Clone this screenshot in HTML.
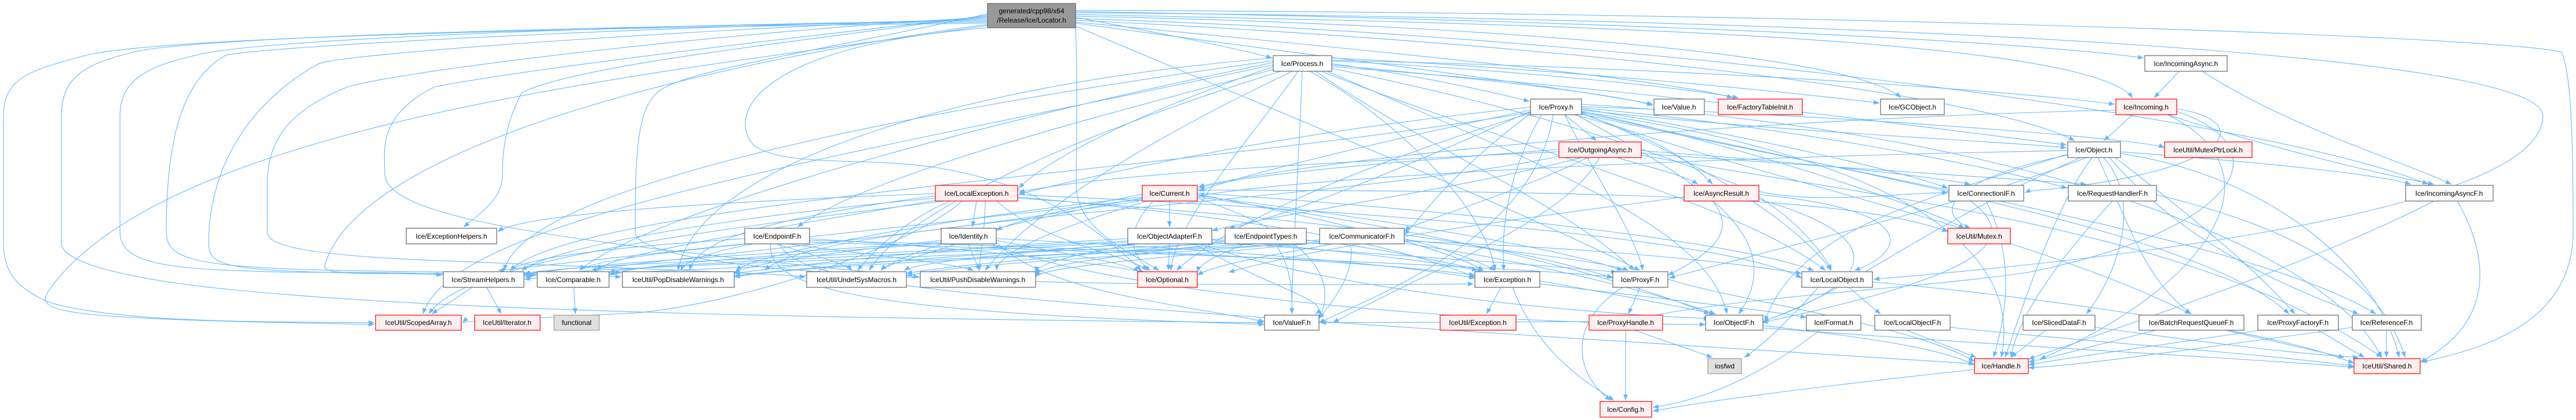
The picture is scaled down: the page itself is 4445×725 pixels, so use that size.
<!DOCTYPE html>
<html><head><meta charset="utf-8"><style>
html,body{margin:0;padding:0;background:#fff;}
svg{display:block;}
text{font-family:"Liberation Sans",Arial,sans-serif;font-size:12px;fill:#000;text-anchor:middle;}
.e{fill:none;stroke:#63b8ff;stroke-width:1.1;marker-end:url(#a);}
.n{fill:#fff;stroke:#666;stroke-width:1.2;}
.r{fill:#fff0f0;stroke:#ff0000;stroke-width:1.2;}
.g{fill:#e0e0e0;stroke:#999;stroke-width:1.2;}
.root{fill:#999;stroke:#666;stroke-width:1.2;}
</style></head><body>
<svg width="4445" height="725" viewBox="0 0 4445 725" xmlns="http://www.w3.org/2000/svg">
<defs><marker id="a" markerWidth="11" markerHeight="8" refX="10" refY="4" orient="auto" markerUnits="userSpaceOnUse"><path d="M0,0 L10,4 L0,8 z" fill="#63b8ff"/></marker></defs>
<g>
<!-- root edges -->
<path class="e" d="M1856,30 C1990,55 2120,80 2195,100"/>
<path class="e" d="M1856,20 C2500,30 3400,60 3699,100"/>
<path class="e" d="M1856,25 C2600,40 3600,60 3680,169"/>
<path class="e" d="M1856,28 C2500,40 3200,90 3280,169"/>
<path class="e" d="M1856,40 C2300,100 2700,150 2852,180"/>
<path class="e" d="M1856,38 C2400,90 2900,140 2990,169"/>
<path class="e" d="M1856,35 C2600,70 3400,150 3580,243"/>
<path class="e" d="M1856,22 C3000,30 4388,80 4388,200 C4388,380 3500,460 3233,482"/>
<path class="e" d="M1856,18 C3000,20 4300,60 4420,90 C4440,130 4440,300 4440,400 C4440,550 4300,600 4178,625"/>
<path class="e" d="M1856,32 C2800,60 3900,200 4190,318"/>
<path class="e" d="M1856,45 C2100,150 2600,350 2830,467"/>
<path class="e" d="M1856,48 C1860,150 1857,250 1857,320 C1857,400 1960,440 2000,467"/>
<path class="e" d="M1704,40 C1200,45 300,60 150,95 C60,120 6,130 6,200 L6,420 C6,480 40,500 80,520 C200,560 500,555 646,557"/>
<path class="e" d="M1704,38 C1200,42 350,60 230,90 C150,110 106,130 106,200 L106,420 C106,450 200,480 400,500 C800,540 1500,550 2180,557"/>
<path class="e" d="M1704,36 C1200,40 450,65 340,95 C250,115 207,140 207,200 L207,400 C207,460 300,465 500,470 C650,470 720,470 763,475"/>
<path class="e" d="M1704,34 C1300,40 500,75 390,95 C310,140 287,250 287,400 C287,460 360,465 800,470 L1072,478"/>
<path class="e" d="M1704,32 C1300,45 600,90 550,110 C440,170 360,280 360,420 C360,470 400,470 925,475"/>
<path class="e" d="M1704,30 C1300,50 700,120 600,150 C500,190 461,240 461,320 L461,400 C461,420 500,440 760,450 C1000,460 1300,470 1390,478"/>
<path class="e" d="M1704,28 C1400,60 900,120 750,150 C650,200 664,260 664,300 C664,380 1000,420 1586,478"/>
<path class="e" d="M1704,26 C1400,70 1000,110 900,160 C880,200 867,240 867,300 C867,340 840,360 800,392"/>
<path class="e" d="M1704,24 C1450,80 1200,120 1150,150 C1100,170 1096,250 1096,400 C1096,450 1400,500 2543,490"/>
<path class="e" d="M1704,48 C1300,80 1255,200 1300,250 C1350,290 1500,270 1620,290 C1800,320 1900,400 1970,467"/>
<path class="e" d="M1704,44 C1200,120 300,200 85,500 C60,540 80,550 646,560"/>
<path class="e" d="M1704,42 C1000,140 600,300 560,460 C560,480 700,470 1072,470"/>
<!-- Process edges -->
<path class="e" d="M2298,110 C2450,130 2580,160 2639,175"/>
<path class="e" d="M2298,112 C2600,140 2800,165 2852,182"/>
<path class="e" d="M2298,105 C2600,120 2900,150 3000,169"/>
<path class="e" d="M2298,100 C2700,120 3100,160 3243,178"/>
<path class="e" d="M2298,104 C3000,120 3500,160 3649,180"/>
<path class="e" d="M2298,115 C2900,160 3400,230 3566,250"/>
<path class="e" d="M2260,123 C2400,200 2560,350 2580,467"/>
<path class="e" d="M2270,123 C2450,250 2700,350 2820,467"/>
<path class="e" d="M2280,123 C2600,250 3000,350 3150,467"/>
<path class="e" d="M2197,115 C1950,200 1800,280 1758,325"/>
<path class="e" d="M2197,120 C1900,200 1500,300 1376,392"/>
<path class="e" d="M2197,105 C1500,200 900,330 870,467"/>
<path class="e" d="M2197,108 C1600,230 1100,380 1000,467"/>
<path class="e" d="M2197,112 C1400,280 780,380 730,542"/>
<path class="e" d="M2197,100 C1600,150 1200,300 1170,467"/>
<path class="e" d="M2210,123 C1800,250 1550,380 1500,467"/>
<path class="e" d="M2230,123 C1900,280 1750,400 1700,467"/>
<path class="e" d="M2240,123 C2150,250 2030,380 2020,467"/>
<path class="e" d="M2247,123 C2240,300 2230,450 2229,542"/>
<path class="e" d="M2290,123 C2700,300 2950,400 2980,542"/>
<path class="e" d="M2298,118 C2700,200 2900,280 3000,320 C3100,360 3300,330 3361,333"/>
<!-- Proxy edges -->
<path class="e" d="M2700,198 L2755,243"/>
<path class="e" d="M2715,198 C2850,230 2920,280 2955,318"/>
<path class="e" d="M2641,185 C2200,230 1900,300 1758,335"/>
<path class="e" d="M2641,190 C2400,240 2150,300 2068,330"/>
<path class="e" d="M2660,198 C2600,300 2590,400 2595,467"/>
<path class="e" d="M2700,198 C2750,300 2820,400 2835,467"/>
<path class="e" d="M2729,195 C2900,260 3100,380 3160,467"/>
<path class="e" d="M2729,190 C3100,230 3400,240 3566,255"/>
<path class="e" d="M2729,188 C3000,230 3300,300 3361,325"/>
<path class="e" d="M2729,186 C3100,220 3450,290 3567,325"/>
<path class="e" d="M2729,184 C3200,200 3700,240 3735,255"/>
<path class="e" d="M2729,192 C3000,250 3300,350 3390,394"/>
<path class="e" d="M2729,196 C3000,300 3500,400 3780,542"/>
<path class="e" d="M2729,194 C3200,300 3800,400 3950,542"/>
<path class="e" d="M2729,197 C3300,320 3900,420 4100,542"/>
<path class="e" d="M2729,180 C3400,220 4000,400 4110,617"/>
<path class="e" d="M2720,198 C2900,300 3100,400 3000,542"/>
<path class="e" d="M2641,195 C2300,300 2100,400 2030,467"/>
<path class="e" d="M2641,194 C2000,300 1000,350 880,467"/>
<path class="e" d="M2641,192 C2400,300 2200,380 2120,394"/>
<path class="e" d="M2641,196 C2500,300 2450,380 2423,405"/>
<path class="e" d="M2680,198 C2650,400 2400,500 2276,557"/>
<path class="e" d="M2729,193 C3200,260 3500,400 3453,617"/>
<!-- OutgoingAsync edges -->
<path class="e" d="M2790,272 C2850,290 2900,300 2930,318"/>
<path class="e" d="M2690,258 C2400,280 2150,300 2068,325"/>
<path class="e" d="M2690,262 C2300,280 1900,300 1758,332"/>
<path class="e" d="M2740,272 C2600,340 2450,380 2423,398"/>
<path class="e" d="M2730,272 C2500,330 2200,370 2091,398"/>
<path class="e" d="M2832,260 C3100,280 3300,300 3400,318"/>
<path class="e" d="M2832,265 C3200,290 3500,310 3600,318"/>
<path class="e" d="M2690,270 C2300,350 1400,380 1320,467"/>
<path class="e" d="M2760,272 C2700,380 2500,450 2300,557"/>
<path class="e" d="M2832,268 C3300,350 3800,400 4110,617"/>
<!-- Object edges -->
<path class="e" d="M3568,260 C3000,270 2300,300 2068,338"/>
<path class="e" d="M3659,262 C3900,280 4100,300 4160,318"/>
<path class="e" d="M3659,265 C3900,300 4100,450 4140,617"/>
<path class="e" d="M3610,272 C3550,350 3500,500 3460,617"/>
<path class="e" d="M3630,272 C3700,350 3650,480 3600,542"/>
<path class="e" d="M3600,272 C3400,350 3100,420 2880,480"/>
<path class="e" d="M3590,272 C3300,400 3200,500 3042,555"/>
<path class="e" d="M3640,272 C3750,400 3900,480 4070,542"/>
<path class="e" d="M3650,272 C3750,350 3880,450 3960,542"/>
<path class="e" d="M3620,272 C3680,400 3700,480 3781,542"/>
<path class="e" d="M3568,268 C3400,300 3320,360 3400,394"/>
<path class="e" d="M3568,266 C3300,350 3100,400 3045,555"/>
<!-- Incoming edges -->
<path class="e" d="M3680,198 L3630,243"/>
<path class="e" d="M3740,198 C3900,250 4100,300 4200,318"/>
<path class="e" d="M3756,188 C3900,210 3850,300 3500,330 L3494,333"/>
<path class="e" d="M3651,190 C3200,200 2400,250 2068,322"/>
<path class="e" d="M3756,192 C3950,260 3850,400 3500,470 C3300,500 3000,510 2800,555 L2278,557"/>
<path class="e" d="M3740,198 C3950,300 3800,500 3520,620"/>
<!-- IncomingAsync edges -->
<path class="e" d="M3760,123 L3717,169"/>
<path class="e" d="M3800,123 C3950,220 4150,280 4230,318"/>
<!-- LocalException edges -->
<path class="e" d="M1685,347 L1678,392"/>
<path class="e" d="M1614,334 C1200,350 900,370 859,400"/>
<path class="e" d="M1614,338 C1300,380 1200,420 1190,467"/>
<path class="e" d="M1640,347 C1560,380 1500,440 1480,467"/>
<path class="e" d="M1700,347 C1700,400 1690,440 1690,467"/>
<path class="e" d="M1720,347 C1800,420 1950,440 1980,467"/>
<path class="e" d="M1756,340 C2200,380 2400,420 2545,478"/>
<path class="e" d="M1756,342 C2300,380 2600,420 2783,480"/>
<path class="e" d="M1756,336 C2500,370 3000,420 3109,480"/>
<path class="e" d="M1630,347 C1200,400 800,450 740,542"/>
<path class="e" d="M1614,342 C1200,380 950,430 900,467"/>
<path class="e" d="M1614,346 C1300,400 1050,440 1030,467"/>
<path class="e" d="M1660,347 C1580,420 1300,520 1100,540 C900,550 800,555 798,557"/>
<!-- Current edges -->
<path class="e" d="M2018,347 L2018,392"/>
<path class="e" d="M1971,335 C1850,360 1750,380 1719,398"/>
<path class="e" d="M1990,347 C1940,400 1950,440 1985,467"/>
<path class="e" d="M1971,340 C1600,380 1300,440 1270,467"/>
<path class="e" d="M1971,342 C1700,390 1550,440 1520,467"/>
<path class="e" d="M1980,347 C1800,400 1720,440 1720,467"/>
<path class="e" d="M2066,335 C2300,380 2500,430 2560,467"/>
<path class="e" d="M2066,338 C2400,380 2700,430 2800,467"/>
<path class="e" d="M2066,333 C2600,370 3000,420 3130,467"/>
<path class="e" d="M2066,340 C2500,400 2800,480 2950,542"/>
<path class="e" d="M2066,328 C2800,330 3200,340 3361,400"/>
<path class="e" d="M1971,344 C1500,400 1000,450 860,467"/>
<path class="e" d="M1971,346 C1500,420 1100,450 1020,467"/>
<path class="e" d="M2066,342 C2300,420 2300,500 2276,550"/>
<!-- Level 5 edges -->
<path class="e" d="M1300,421 C1200,440 1180,455 1175,467"/>
<path class="e" d="M1340,421 C1400,440 1460,455 1470,467"/>
<path class="e" d="M1360,421 C1500,440 1650,455 1680,467"/>
<path class="e" d="M1397,412 C1700,430 1900,455 1975,470"/>
<path class="e" d="M1397,415 C2000,430 2400,455 2545,475"/>
<path class="e" d="M1397,418 C2100,440 2600,460 2783,478"/>
<path class="e" d="M1330,421 C1320,500 1500,540 2182,560"/>
<path class="e" d="M1285,412 C1000,430 900,450 880,467"/>
<path class="e" d="M1290,421 C1100,440 1010,455 1000,467"/>
<path class="e" d="M1345,421 C1380,500 1700,520 3407,628"/>
<path class="e" d="M1624,415 C1400,440 1300,455 1267,470"/>
<path class="e" d="M1650,421 C1600,440 1530,455 1520,467"/>
<path class="e" d="M1671,421 L1690,467"/>
<path class="e" d="M1719,415 C1850,440 1950,455 1965,470"/>
<path class="e" d="M1719,412 C2100,430 2400,455 2545,480"/>
<path class="e" d="M1719,418 C1800,500 2000,520 2182,555"/>
<path class="e" d="M1624,418 C1300,440 1000,455 905,475"/>
<path class="e" d="M1624,420 C1300,445 1100,455 1051,475"/>
<path class="e" d="M1710,421 C1900,500 2500,560 2943,560"/>
<path class="e" d="M2018,421 L2016,467"/>
<path class="e" d="M1946,412 C1600,430 1400,455 1267,472"/>
<path class="e" d="M1950,421 C1700,440 1580,455 1560,467"/>
<path class="e" d="M1960,421 C1850,440 1790,455 1787,470"/>
<path class="e" d="M2060,421 C2200,500 2300,520 2270,542"/>
<path class="e" d="M2090,414 C2300,430 2500,455 2550,467"/>
<path class="e" d="M2090,418 C2400,440 2700,460 2790,470"/>
<path class="e" d="M2070,421 C2300,500 2700,540 2950,550"/>
<path class="e" d="M1946,416 C1500,440 1000,455 905,472"/>
<path class="e" d="M1946,418 C1500,445 1100,455 1051,470"/>
<path class="e" d="M2150,421 C2100,440 2070,455 2066,470"/>
<path class="e" d="M2114,412 C1800,430 1400,460 1267,476"/>
<path class="e" d="M2114,416 C1900,440 1650,455 1564,472"/>
<path class="e" d="M2114,419 C1950,440 1800,455 1787,474"/>
<path class="e" d="M2200,421 C2230,460 2230,510 2229,542"/>
<path class="e" d="M2253,414 C2400,430 2500,455 2560,467"/>
<path class="e" d="M2114,420 C1500,450 1000,460 905,478"/>
<path class="e" d="M2300,421 C2200,440 2100,455 2066,475"/>
<path class="e" d="M2330,421 C2340,470 2300,520 2276,550"/>
<path class="e" d="M2423,412 C2500,430 2560,455 2580,467"/>
<path class="e" d="M2423,414 C2600,430 2780,455 2810,467"/>
<path class="e" d="M2423,416 C2800,430 3000,455 3109,472"/>
<path class="e" d="M2423,420 C2700,460 2900,520 2960,542"/>
<path class="e" d="M2278,414 C1900,440 1400,455 1267,478"/>
<path class="e" d="M2278,417 C2000,440 1650,455 1564,476"/>
<path class="e" d="M2278,419 C2000,445 1800,460 1787,478"/>
<path class="e" d="M2278,420 C1600,450 1000,470 905,482"/>
<path class="e" d="M2955,347 C3000,400 2950,440 2878,475"/>
<path class="e" d="M3035,340 C3100,380 3150,440 3160,467"/>
<path class="e" d="M3035,336 C3300,360 3300,430 3200,467"/>
<path class="e" d="M2906,340 C2600,380 2300,420 2120,470"/>
<path class="e" d="M3035,344 C3300,420 3200,500 3042,555"/>
<path class="e" d="M3427,347 C3480,450 3460,550 3440,617"/>
<path class="e" d="M3400,347 C3500,420 3400,480 3040,557"/>
<path class="e" d="M3645,347 C3550,450 3480,550 3470,617"/>
<path class="e" d="M3721,336 C3900,380 4100,450 4150,617"/>
<path class="e" d="M4200,347 C4000,450 3700,550 3500,620"/>
<path class="e" d="M4240,347 C4300,450 4300,560 4176,625"/>
<!-- Level 6 -> 7 -->
<path class="e" d="M815,496 L745,542"/>
<path class="e" d="M840,496 L865,542"/>
<path class="e" d="M990,496 L993,542"/>
<path class="e" d="M2590,496 L2565,542"/>
<path class="e" d="M2610,496 C2650,600 2720,650 2785,691"/>
<path class="e" d="M2830,496 L2810,542"/>
<path class="e" d="M2800,496 C2700,560 2720,650 2780,691"/>
<path class="e" d="M3190,496 L3245,542"/>
<path class="e" d="M2657,485 C2800,510 2900,530 2960,542"/>
<path class="e" d="M2657,490 C2900,520 3050,535 3117,548"/>
<path class="e" d="M2878,482 C3000,520 3300,560 3407,624"/>
<path class="e" d="M3231,487 C3400,500 3900,560 4062,627"/>
<path class="e" d="M2805,570 L2805,691"/>
<path class="e" d="M2820,570 L2955,617"/>
<path class="e" d="M3042,562 C3200,580 3350,600 3407,630"/>
<path class="e" d="M3042,566 C3500,600 3900,620 4062,634"/>
<path class="e" d="M3140,570 C3050,640 2950,690 2852,703"/>
<path class="e" d="M3290,570 L3410,617"/>
<path class="e" d="M3365,565 C3600,590 3900,610 4062,632"/>
<path class="e" d="M3530,570 L3470,617"/>
<path class="e" d="M3615,565 C3800,590 3950,610 4070,617"/>
<path class="e" d="M3720,570 C3600,600 3550,615 3500,625"/>
<path class="e" d="M3840,570 L4045,617"/>
<path class="e" d="M3900,570 C3700,600 3550,620 3500,630"/>
<path class="e" d="M4000,570 L4080,617"/>
<path class="e" d="M4060,565 C3800,600 3600,630 3500,635"/>
<path class="e" d="M4118,570 L4118,617"/>
<path class="e" d="M3407,638 C3200,660 2950,690 2852,710"/>
<path class="e" d="M3160,470 C3100,540 3050,590 3010,617"/>
</g>
<!-- Nodes -->
<rect class="root" x="1704" y="6" width="152" height="42"/>
<text x="1780" y="23">generated/cpp98/x64</text><text x="1780" y="39">/Release/Ice/Locator.h</text>
<rect class="n" x="2197" y="96" width="101" height="27"/><text x="2247" y="114">Ice/Process.h</text>
<rect class="n" x="3701" y="96" width="142" height="27"/><text x="3772" y="114">Ice/IncomingAsync.h</text>
<rect class="n" x="2641" y="171" width="88" height="27"/><text x="2685" y="189">Ice/Proxy.h</text>
<rect class="n" x="2854" y="171" width="87" height="27"/><text x="2897" y="189">Ice/Value.h</text>
<rect class="r" x="2965" y="171" width="145" height="27"/><text x="3037" y="189">Ice/FactoryTableInit.h</text>
<rect class="n" x="3245" y="171" width="110" height="27"/><text x="3300" y="189">Ice/GCObject.h</text>
<rect class="r" x="3651" y="171" width="105" height="27"/><text x="3703" y="189">Ice/Incoming.h</text>
<rect class="r" x="2690" y="245" width="142" height="27"/><text x="2761" y="263">Ice/OutgoingAsync.h</text>
<rect class="n" x="3568" y="245" width="91" height="27"/><text x="3613" y="263">Ice/Object.h</text>
<rect class="r" x="3735" y="245" width="151" height="27"/><text x="3810" y="263">IceUtil/MutexPtrLock.h</text>
<rect class="r" x="1614" y="320" width="142" height="27"/><text x="1685" y="338">Ice/LocalException.h</text>
<rect class="r" x="1971" y="320" width="95" height="27"/><text x="2018" y="338">Ice/Current.h</text>
<rect class="r" x="2906" y="320" width="129" height="27"/><text x="2970" y="338">Ice/AsyncResult.h</text>
<rect class="n" x="3363" y="320" width="129" height="27"/><text x="3427" y="338">Ice/ConnectionIF.h</text>
<rect class="n" x="3569" y="320" width="152" height="27"/><text x="3645" y="338">Ice/RequestHandlerF.h</text>
<rect class="n" x="4151" y="320" width="151" height="27"/><text x="4226" y="338">Ice/IncomingAsyncF.h</text>
<rect class="n" x="701" y="394" width="156" height="27"/><text x="779" y="412">Ice/ExceptionHelpers.h</text>
<rect class="n" x="1285" y="394" width="112" height="27"/><text x="1341" y="412">Ice/EndpointF.h</text>
<rect class="n" x="1624" y="394" width="95" height="27"/><text x="1671" y="412">Ice/Identity.h</text>
<rect class="n" x="1946" y="394" width="145" height="27"/><text x="2018" y="412">Ice/ObjectAdapterF.h</text>
<rect class="n" x="2114" y="394" width="140" height="27"/><text x="2184" y="412">Ice/EndpointTypes.h</text>
<rect class="n" x="2277" y="394" width="146" height="27"/><text x="2350" y="412">Ice/CommunicatorF.h</text>
<rect class="r" x="3361" y="394" width="108" height="27"/><text x="3415" y="412">IceUtil/Mutex.h</text>
<rect class="n" x="765" y="469" width="139" height="27"/><text x="834" y="487">Ice/StreamHelpers.h</text>
<rect class="n" x="927" y="469" width="124" height="27"/><text x="989" y="487">Ice/Comparable.h</text>
<rect class="n" x="1074" y="469" width="193" height="27"/><text x="1170" y="487">IceUtil/PopDisableWarnings.h</text>
<rect class="n" x="1392" y="469" width="172" height="27"/><text x="1478" y="487">IceUtil/UndefSysMacros.h</text>
<rect class="n" x="1588" y="469" width="199" height="27"/><text x="1687" y="487">IceUtil/PushDisableWarnings.h</text>
<rect class="r" x="1963" y="469" width="103" height="27"/><text x="2014" y="487">Ice/Optional.h</text>
<rect class="n" x="2545" y="469" width="112" height="27"/><text x="2601" y="487">Ice/Exception.h</text>
<rect class="n" x="2783" y="469" width="95" height="27"/><text x="2830" y="487">Ice/ProxyF.h</text>
<rect class="n" x="3109" y="469" width="122" height="27"/><text x="3170" y="487">Ice/LocalObject.h</text>
<rect class="r" x="648" y="544" width="148" height="26"/><text x="722" y="561">IceUtil/ScopedArray.h</text>
<rect class="r" x="819" y="544" width="113" height="26"/><text x="875" y="561">IceUtil/Iterator.h</text>
<rect class="g" x="956" y="544" width="78" height="26"/><text x="995" y="561">functional</text>
<rect class="n" x="2182" y="544" width="94" height="26"/><text x="2229" y="561">Ice/ValueF.h</text>
<rect class="r" x="2485" y="544" width="131" height="26"/><text x="2550" y="561">IceUtil/Exception.h</text>
<rect class="r" x="2742" y="544" width="127" height="26"/><text x="2805" y="561">Ice/ProxyHandle.h</text>
<rect class="n" x="2943" y="544" width="99" height="26"/><text x="2992" y="561">Ice/ObjectF.h</text>
<rect class="n" x="3117" y="544" width="94" height="26"/><text x="3164" y="561">Ice/Format.h</text>
<rect class="n" x="3235" y="544" width="130" height="26"/><text x="3300" y="561">Ice/LocalObjectF.h</text>
<rect class="n" x="3491" y="544" width="124" height="26"/><text x="3553" y="561">Ice/SlicedDataF.h</text>
<rect class="n" x="3691" y="544" width="181" height="26"/><text x="3781" y="561">Ice/BatchRequestQueueF.h</text>
<rect class="n" x="3896" y="544" width="139" height="26"/><text x="3965" y="561">Ice/ProxyFactoryF.h</text>
<rect class="n" x="4059" y="544" width="119" height="26"/><text x="4118" y="561">Ice/ReferenceF.h</text>
<rect class="g" x="2947" y="619" width="58" height="26"/><text x="2976" y="636">iosfwd</text>
<rect class="r" x="3407" y="619" width="93" height="26"/><text x="3453" y="636">Ice/Handle.h</text>
<rect class="r" x="4062" y="619" width="114" height="26"/><text x="4119" y="636">IceUtil/Shared.h</text>
<rect class="r" x="2761" y="693" width="89" height="27"/><text x="2805" y="711">Ice/Config.h</text>
</svg>
</body></html>
